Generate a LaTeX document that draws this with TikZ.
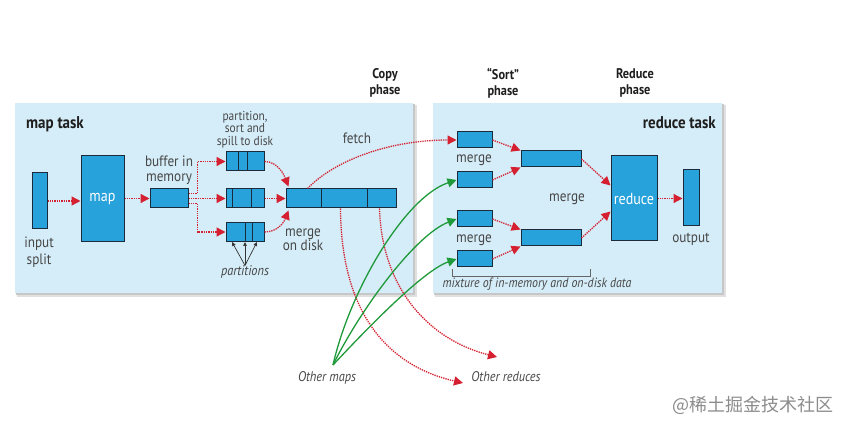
\documentclass[tikz,border=0pt]{standalone}
\usepackage{fontspec}
\setmainfont{PT Sans}[FakeStretch=0.88]
\newfontfamily\cjkfont{Noto Sans CJK SC}
\usetikzlibrary{arrows.meta,calc}
\definecolor{bgblue}{HTML}{D5EDF8}
\definecolor{boxblue}{HTML}{28A2DB}
\definecolor{boxline}{HTML}{1B2B3B}
\definecolor{redarr}{HTML}{D42030}
\definecolor{greenarr}{HTML}{1E9A3A}
\definecolor{txt}{HTML}{474747}
\definecolor{ttl}{HTML}{1E1E1E}
\begin{document}
\begin{tikzpicture}[x=1pt,y=-1pt,
  bx/.style={draw=boxline,line width=1pt,fill=boxblue,inner sep=0pt},
  lbl/.style={text=txt,font=\fontsize{15}{14}\selectfont,align=center,inner sep=0pt},
  small/.style={text=txt,font=\fontsize{13}{12.5}\selectfont,align=center,inner sep=0pt},
  ital/.style={text=txt,font=\fontsize{14}{13}\selectfont\itshape,align=center,inner sep=0pt},
  phase/.style={text=ttl,font=\fontsize{14}{16}\selectfont\bfseries,align=center,inner sep=0pt},
  title/.style={text=ttl,font=\fontsize{17}{17}\selectfont\bfseries,inner sep=0pt},
  wlbl/.style={text=white,font=\fontsize{16}{16}\selectfont},
  rarr/.style={draw=redarr,line width=1.3pt,densely dotted,-{Triangle[length=9pt,width=9pt]}},
  garr/.style={draw=greenarr,line width=1.3pt,-{Triangle[length=9pt,width=9pt]}},
  karr/.style={draw=black!80,line width=0.7pt,-{Triangle[length=4pt,width=3.5pt]}},
  divl/.style={draw=boxline,line width=1pt}]
\useasboundingbox (0,0) rectangle (847,430);
\fill[white] (0,0) rectangle (847,430);
% panels
\fill[black!12] (17,105) rectangle (417,297);
\fill[black!22] (16,104) rectangle (415,295);
\fill[bgblue] (15,103) rectangle (413,293);
\fill[black!12] (435,105) rectangle (726,297);
\fill[black!22] (434,104) rectangle (724,295);
\fill[bgblue] (433,103) rectangle (722,293);
% phase labels
\node[phase] (cp) at (385,83) {Copy\\phase};
\node[phase] (sp) at (503,83) {\char"201C Sort\char"201D\\phase};
\node[phase] (rp) at (635,83) {Reduce\\phase};
\node[title,anchor=west] (mt) at (26,124) {map task};
\node[title,anchor=east] (rt) at (716,123) {reduce task};
% map side boxes
\node[bx,minimum width=15,minimum height=56] (isp) at (39.5,201) {};
\node[bx,minimum width=43,minimum height=86] (mapb) at (102.5,199) {};
\node[wlbl] at (mapb) {map};
\node[bx,minimum width=38,minimum height=19] (buf) at (169,198.5) {};
\node[bx,minimum width=38,minimum height=19] (s1) at (245,161.5) {};
\node[bx,minimum width=38,minimum height=19] (s2) at (245,198.5) {};
\node[bx,minimum width=38,minimum height=19] (s3) at (245,232) {};
\node[bx,minimum width=110,minimum height=19] (md) at (341,198.5) {};
\draw[divl] (238,152) -- (238,171); \draw[divl] (247,152) -- (247,171);
\draw[divl] (232,189) -- (232,208); \draw[divl] (251,189) -- (251,208);
\draw[divl] (245,222.5) -- (245,241.5); \draw[divl] (252,222.5) -- (252,241.5);
\draw[divl] (321,189) -- (321,208); \draw[divl] (367,189) -- (367,208);
% map side labels
\node[lbl,font=\fontsize{15}{17}\selectfont] (isl) at (39,252) {input\\split};
\node[lbl,font=\fontsize{15}{14.5}\selectfont] (bufl) at (169,170) {buffer in\\memory};
\node[small] (psl) at (245,129.5) {partition,\\sort and\\spill to disk};
\node[lbl] (fetch) at (357,138) {fetch};
\node[lbl,font=\fontsize{15}{14.5}\selectfont] (mdl) at (303,240) {merge\\on disk};
\node[ital] (parts) at (245,272) {partitions};
% reduce side boxes
\node[bx,minimum width=35,minimum height=16] (r1) at (474.5,140) {};
\node[bx,minimum width=35,minimum height=16] (r2) at (474.5,180) {};
\node[bx,minimum width=35,minimum height=16] (r3) at (474.5,219) {};
\node[bx,minimum width=35,minimum height=16] (r4) at (474.5,259) {};
\node[bx,minimum width=60,minimum height=16] (mA) at (551,159) {};
\node[bx,minimum width=60,minimum height=16] (mB) at (551,238) {};
\node[bx,minimum width=46,minimum height=85] (red) at (634,198.5) {};
\node[wlbl] at (red) {reduce};
\node[bx,minimum width=16,minimum height=56] (outb) at (691,198) {};
\node[lbl] (ml1) at (474,160) {merge};
\node[lbl] (ml2) at (474,240) {merge};
\node[lbl] (ml3) at (567,199) {merge};
\node[lbl] (outl) at (691,239) {output};
\draw[black!60,line width=0.7pt] (452,269) -- (452,276) -- (590,276) -- (590,269);
\node[ital,font=\fontsize{13.5}{13}\selectfont\itshape] (mix) at (537,284) {mixture of in-memory and on-disk data};
% other
\node[ital] (om) at (327,378) {Other maps};
\node[ital] (orl) at (506,377) {Other reduces};
\coordinate (omp) at (333,365);
\coordinate (or1) at (463,383);
\coordinate (or2) at (497,357);
% map side arrows
\draw[rarr] (isp.east) -- (mapb.west |- isp.east);
\draw[rarr] (mapb.east |- buf.west) -- (buf.west);
\draw[rarr] ($(buf.east)+(0,-5)$) -- ++(9,0) |- (s1.west);
\draw[rarr] (buf.east) -- (s2.west);
\draw[rarr] ($(buf.east)+(0,5)$) -- ++(9,0) |- (s3.west);
\draw[rarr] (s1.east) .. controls (278,161.5) and (284,175) .. ($(md.north west)+(3,-2)$);
\draw[rarr] (s2.east) -- (md.west);
\draw[rarr] (s3.east) .. controls (278,232) and (284,222) .. ($(md.south west)+(3,2)$);
\draw[karr] (parts.north) -- ($(s3.south)+(-13,0)$);
\draw[karr] (parts.north) -- (s3.south);
\draw[karr] (parts.north) -- ($(s3.south)+(12,0)$);
% fetch and other reduces
\draw[rarr] ($(md.north west)+(22,0)$) .. controls (335,160) and (390,140) .. (r1.west);
\draw[rarr] ($(md.south west)+(55,0)$) .. controls (341,310) and (385,365) .. (or1);
\draw[rarr] ($(md.south west)+(94,0)$) .. controls (382,290) and (430,340) .. (or2);
% other maps
\draw[garr] (omp) .. controls (350,290) and (405,197) .. (r2.west);
\draw[garr] (omp) .. controls (360,310) and (415,235) .. (r3.west);
\draw[garr] (omp) .. controls (375,320) and (425,270) .. (r4.west);
% reduce side arrows
\draw[rarr] (r1.east) -- (mA.north west);
\draw[rarr] (r2.east) -- (mA.south west);
\draw[rarr] (r3.east) -- (mB.north west);
\draw[rarr] (r4.east) -- (mB.south west);
\draw[rarr] (mA.east) -- ($(red.west)+(0,-13)$);
\draw[rarr] (mB.east) -- ($(red.west)+(0,13)$);
\draw[rarr] (red.east) -- (outb.west |- red.east);
% watermark
\node[text=black!45,font=\cjkfont\fontsize{18}{18}\selectfont,anchor=west,inner sep=0pt] (wm) at (672,405) {@稀土掘金技术社区};
\end{tikzpicture}
\end{document}
